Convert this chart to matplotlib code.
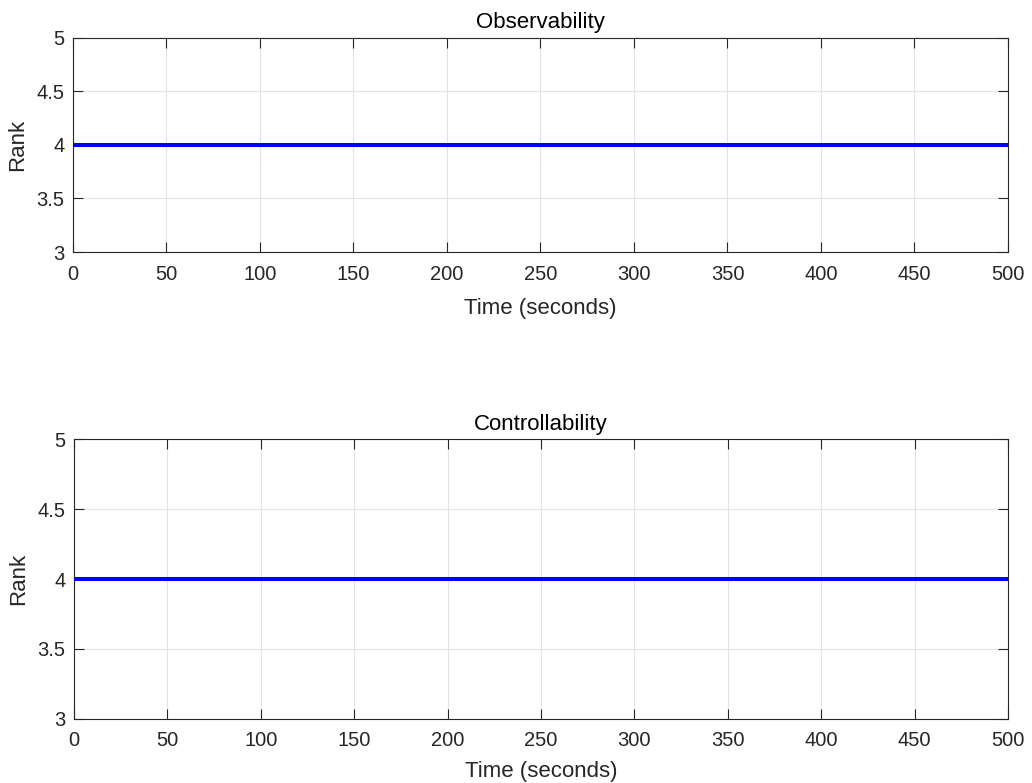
import matplotlib
matplotlib.use('Agg')
import matplotlib.pyplot as plt

plt.rcParams['font.family'] = ['Liberation Sans', 'DejaVu Sans']

# data
time_s = [0, 50, 100, 150, 200, 250, 300, 350, 400, 450, 500]
obs_rank = [4, 4, 4, 4, 4, 4, 4, 4, 4, 4, 4]
ctrl_rank = [4, 4, 4, 4, 4, 4, 4, 4, 4, 4, 4]
x_ticks = [0, 50, 100, 150, 200, 250, 300, 350, 400, 450, 500]
y_ticks = [3, 3.5, 4, 4.5, 5]
y_ticklabels = ['3', '3.5', '4', '4.5', '5']

dark = '#262626'

fig = plt.figure(figsize=(10.32, 7.83), dpi=100)
ax1 = fig.add_axes([0.0707, 0.678, 0.906, 0.274])
ax2 = fig.add_axes([0.0717, 0.082, 0.905, 0.357])


def style(ax, title, ranks, xpad):
    ax.plot(time_s, ranks, color='#0000ff', linewidth=2.9, zorder=3)
    ax.set_xlim(0, 500)
    ax.set_ylim(3, 5)
    ax.set_xticks(x_ticks)
    ax.set_yticks(y_ticks)
    ax.set_yticklabels(y_ticklabels)
    ax.grid(True, color='#e3e3e3', linewidth=0.8)
    ax.set_axisbelow(True)
    ax.tick_params(direction='in', top=True, right=True, length=7,
                   width=0.8, color=dark, labelcolor=dark, labelsize=14.5)
    ax.tick_params(axis='x', pad=9)
    ax.tick_params(axis='y', pad=6)
    for sp in ax.spines.values():
        sp.set_color(dark)
        sp.set_linewidth(0.8)
    ax.set_title(title, fontsize=16, color='black', pad=7)
    ax.set_xlabel('Time (seconds)', fontsize=16, color=dark, labelpad=xpad)
    ax.set_ylabel('Rank', fontsize=16, color=dark, labelpad=6)


style(ax1, 'Observability', obs_rank, 10)
style(ax2, 'Controllability', ctrl_rank, 8)

fig.savefig('out.png', dpi=100, facecolor='white')
